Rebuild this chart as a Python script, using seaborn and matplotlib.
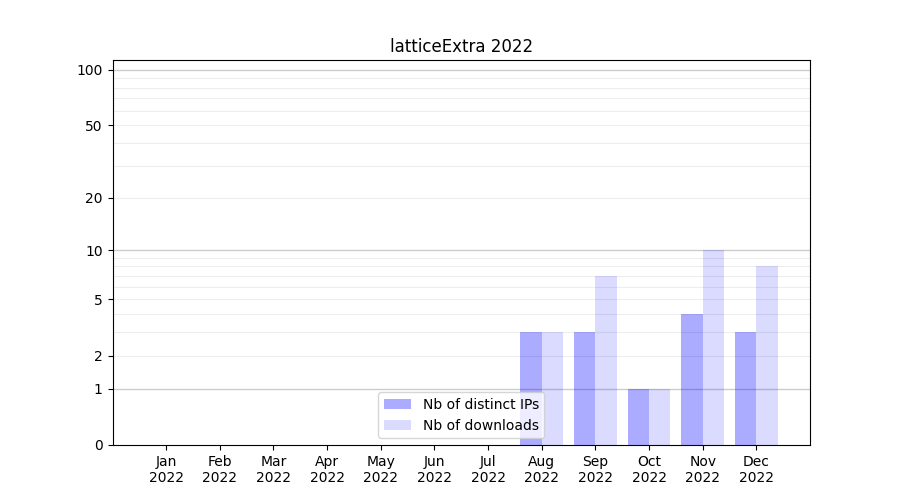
import numpy as np
import pandas as pd
import matplotlib
matplotlib.use("Agg")
import matplotlib.pyplot as plt
import seaborn as sns

# DATA
months = ["Jan", "Feb", "Mar", "Apr", "May", "Jun",
          "Jul", "Aug", "Sep", "Oct", "Nov", "Dec"]
year = "2022"
distinct_ips = [0, 0, 0, 0, 0, 0, 0, 3, 3, 1, 4, 3]
downloads = [0, 0, 0, 0, 0, 0, 0, 3, 7, 1, 10, 8]
series_names = ["Nb of distinct IPs", "Nb of downloads"]
y_ticks = [0, 1, 2, 5, 10, 20, 50, 100]

df = pd.DataFrame({
    "month": months * 2,
    "value": distinct_ips + downloads,
    "series": [series_names[0]] * 12 + [series_names[1]] * 12,
})

fig, ax = plt.subplots(figsize=(9, 5), dpi=100)

sns.barplot(data=df, x="month", y="value", hue="series", order=months,
            palette=["blue", "blue"], saturation=1, linewidth=0,
            width=0.8, ax=ax, legend=False)

# alpha per series
alphas = [0.33, 0.14]
for cont, a in zip(ax.containers, alphas):
    for p in cont.patches:
        p.set_facecolor((0, 0, 1, a))
        p.set_edgecolor("none")

# log(1+x) scale
ax.set_yscale("function",
              functions=(lambda v: np.log10(1 + np.clip(v, 0, None)),
                         lambda v: 10 ** v - 1))
ax.set_ylim(0, 113)
ax.set_xlim(-1, 12)

# gridlines
for v in [1, 10, 100]:
    ax.axhline(v, color="0.8", linewidth=1, zorder=0)
for v in list(range(2, 10)) + list(range(20, 100, 10)):
    ax.axhline(v, color="0.93", linewidth=0.8, zorder=0)

ax.set_yticks(y_ticks)
ax.set_yticklabels([str(t) for t in y_ticks])
ax.yaxis.set_minor_locator(matplotlib.ticker.NullLocator())
ax.set_xticks(range(12))
ax.set_xticklabels([m + "\n" + year for m in months])

ax.set_xlabel("")
ax.set_ylabel("")
ax.set_title("latticeExtra 2022")
ax.legend(ax.containers, series_names, loc="lower center")

plt.savefig("out.png")
plt.close()
